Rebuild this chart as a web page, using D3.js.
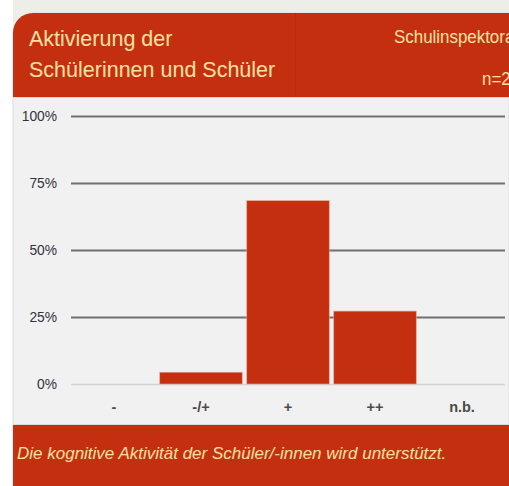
<!DOCTYPE html>
<html>
<head>
<meta charset="utf-8">
<script src="https://cdn.jsdelivr.net/npm/d3@7"></script>
<style>
  body { margin: 0; background: #fff; }
  svg { display: block; font-family: "Liberation Sans", Arial, sans-serif; }
</style>
</head>
<body>
<svg id="chart"></svg>
<script>
const categories = ['-', '-/+', '+', '++', 'n.b.'];
const values = [0, 4.4, 68.4, 27.2, 0];
const yTicks = [0, 25, 50, 75, 100];
const titleLines = ['Aktivierung der', 'Schülerinnen und Schüler'];
const footerText = 'Die kognitive Aktivität der Schüler/-innen wird unterstützt.';

const W = 509, H = 486;
const red = '#c4300f';
const pale = '#fbe2a4';

const svg = d3.select('#chart')
  .attr('width', W)
  .attr('height', H)
  .attr('viewBox', `0 0 ${W} ${H}`);

// grey page strip behind the card
svg.append('rect')
  .attr('x', 13).attr('y', 0)
  .attr('width', W - 13).attr('height', H)
  .style('fill', '#eeeee9');

// card body with rounded top-left corner
const r = 20;
const cardPath = (bottom) => `M13,${bottom} V${13 + r} A${r},${r} 0 0 1 ${13 + r},13 H${W} V${bottom} Z`;

svg.append('path')
  .attr('d', cardPath(H))
  .style('fill', '#f1f1f1')
  .style('stroke', '#dcdcdc');

// header
svg.append('path')
  .attr('d', cardPath(97))
  .style('fill', red);

svg.append('line')
  .attr('x1', 295.5).attr('x2', 295.5)
  .attr('y1', 13).attr('y2', 97)
  .style('stroke', '#b62b0d');

svg.append('line')
  .attr('x1', 13).attr('x2', W)
  .attr('y1', 97.5).attr('y2', 97.5)
  .style('stroke', '#d9d9d9');

svg.append('g').attr('class', 'title')
  .selectAll('text')
  .data(titleLines)
  .join('text')
    .attr('x', 29)
    .attr('y', (d, i) => 46 + i * 31)
    .style('font-size', '21.5px')
    .style('fill', pale)
    .text(d => d);

// right header texts run past the edge, as in the source
const right = svg.append('g').attr('class', 'meta')
  .attr('transform', 'translate(394, 0) scale(0.94, 1)');

right.append('text')
  .attr('x', 0).attr('y', 43)
  .style('font-size', '18px')
  .style('fill', pale)
  .text('Schulinspektorat');

right.append('text')
  .attr('x', (482 - 394) / 0.94).attr('y', 85)
  .style('font-size', '18px')
  .style('fill', pale)
  .text('n=2');

// scales
const x = d3.scaleBand()
  .domain(categories)
  .range([71, 505])
  .paddingInner(0.052)
  .paddingOuter(0.02);

const y = d3.scaleLinear()
  .domain([0, 100])
  .range([384, 116]);

// grid + y axis
const yAxis = d3.axisLeft(y)
  .tickValues(yTicks)
  .tickSize(-(505 - 71))
  .tickPadding(14)
  .tickFormat(d => d + '%');

const gy = svg.append('g').attr('class', 'axis--y')
  .attr('transform', 'translate(71, 0)')
  .call(yAxis);

gy.select('.domain').remove();
gy.selectAll('.tick line')
  .style('stroke', d => d === 0 ? '#d3d3d3' : '#707070')
  .style('stroke-width', d => d === 0 ? 1.5 : 2.2);
gy.selectAll('.tick text')
  .style('font-size', '13.8px')
  .style('font-family', '"Liberation Sans", Arial, sans-serif')
  .style('fill', '#333340');

// bars
svg.append('g').attr('class', 'bars')
  .selectAll('rect')
  .data(categories.map((c, i) => ({ c, v: values[i] })).filter(d => d.v > 0))
  .join('rect')
    .attr('x', d => x(d.c))
    .attr('y', d => y(d.v))
    .attr('width', x.bandwidth())
    .attr('height', d => y(0) - y(d.v))
    .style('fill', red)
    .style('stroke', '#e9a591')
    .style('stroke-width', 0.6);

// x axis
const gx = svg.append('g').attr('class', 'axis--x')
  .attr('transform', 'translate(0, 384)')
  .call(d3.axisBottom(x).tickSize(0).tickPadding(18));

gx.select('.domain').remove();
gx.selectAll('.tick text')
  .style('font-size', '14.5px')
  .style('font-weight', 'bold')
  .style('font-family', '"Liberation Sans", Arial, sans-serif')
  .style('fill', '#4a4a4a');

// footer
svg.append('line')
  .attr('x1', 13).attr('x2', W)
  .attr('y1', 424.5).attr('y2', 424.5)
  .style('stroke', '#d9d9d9');

svg.append('rect')
  .attr('x', 13).attr('y', 425)
  .attr('width', W - 13).attr('height', H - 425)
  .style('fill', red);

svg.append('text')
  .attr('x', 17).attr('y', 459)
  .style('font-size', '17px')
  .style('font-style', 'italic')
  .style('fill', pale)
  .text(footerText);
</script>
</body>
</html>
